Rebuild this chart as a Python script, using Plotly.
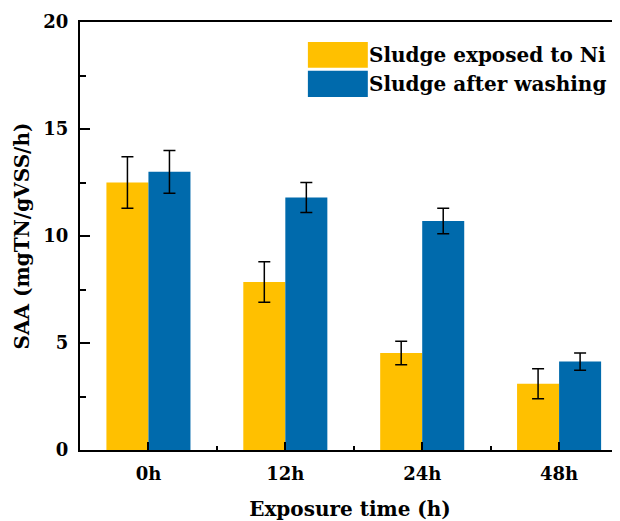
import plotly.graph_objects as go

categories = ["0h", "12h", "24h", "48h"]
exposed_vals = [12.5, 7.85, 4.53, 3.1]
exposed_err = [1.2, 0.95, 0.55, 0.7]
washed_vals = [13.0, 11.8, 10.7, 4.13]
washed_err = [1.0, 0.7, 0.6, 0.4]
series_names = ["Sludge exposed to Ni", "Sludge after washing"]
colors = ["#FFC000", "#006AAC"]
y_ticks = [0, 5, 10, 15, 20]

xpos = list(range(len(categories)))
FONT = "DejaVu Serif"

fig = go.Figure()
for name, vals, errs, col in [
    (series_names[0], exposed_vals, exposed_err, colors[0]),
    (series_names[1], washed_vals, washed_err, colors[1]),
]:
    fig.add_trace(go.Bar(
        x=xpos, y=vals, name=name, marker=dict(color=col, line=dict(width=0)),
        error_y=dict(type="data", array=errs, color="black", thickness=1.5, width=6),
        showlegend=False,
    ))

fig.update_layout(
    width=612, height=513,
    margin=dict(l=72, r=0, t=14, b=71),
    plot_bgcolor="white", paper_bgcolor="white",
    barmode="group", bargap=0.386, bargroupgap=0,
    font=dict(family=FONT, size=18, color="black"),
)
fig.update_xaxes(
    range=[-0.5, 3.445], tickmode="array", tickvals=xpos,
    ticktext=[f"<b>{c}</b>" for c in categories],
    ticks="inside", ticklen=8, tickwidth=2, tickcolor="black",
    showline=True, linewidth=2, linecolor="black", mirror=True,
    showgrid=False, zeroline=False, ticklabelstandoff=6,
    tickfont=dict(family=FONT, size=18, color="black"),
    minor=dict(tickmode="array", tickvals=[0.5, 1.5, 2.5], ticks="inside", ticklen=4,
               tickwidth=2, tickcolor="black", showgrid=False),
    title=dict(text="<b>Exposure time (h)</b>", font=dict(family=FONT, size=20), standoff=20),
)
fig.update_yaxes(
    range=[0, 20], tickmode="array", tickvals=y_ticks,
    ticktext=[f"<b>{v}</b>" for v in y_ticks],
    ticks="inside", ticklen=10, tickwidth=2, tickcolor="black",
    showline=True, linewidth=2, linecolor="black",
    showgrid=False, zeroline=False, ticklabelstandoff=6,
    tickfont=dict(family=FONT, size=18, color="black"),
    minor=dict(tickmode="array", tickvals=[2.5, 7.5, 12.5, 17.5], ticks="inside", ticklen=6,
               tickwidth=2, tickcolor="black", showgrid=False),
    title=dict(text="<b>SAA (mgTN/gVSS/h)</b>", font=dict(family=FONT, size=20), standoff=8),
)

# legend drawn as swatches + text
sw = [(0.953, 0.893, 0.923), (0.886, 0.825, 0.855)]
for (y1, y0, yc), name, col in zip(sw, series_names, colors):
    fig.add_shape(type="rect", xref="paper", yref="paper", x0=0.422, x1=0.533,
                  y0=y0, y1=y1, fillcolor=col, line=dict(width=0))
    fig.add_annotation(xref="paper", yref="paper", x=0.531, y=yc, xanchor="left",
                       yanchor="middle", showarrow=False, text=f"<b>{name}</b>",
                       font=dict(family=FONT, size=20, color="black"))

fig.write_html("out.html")
